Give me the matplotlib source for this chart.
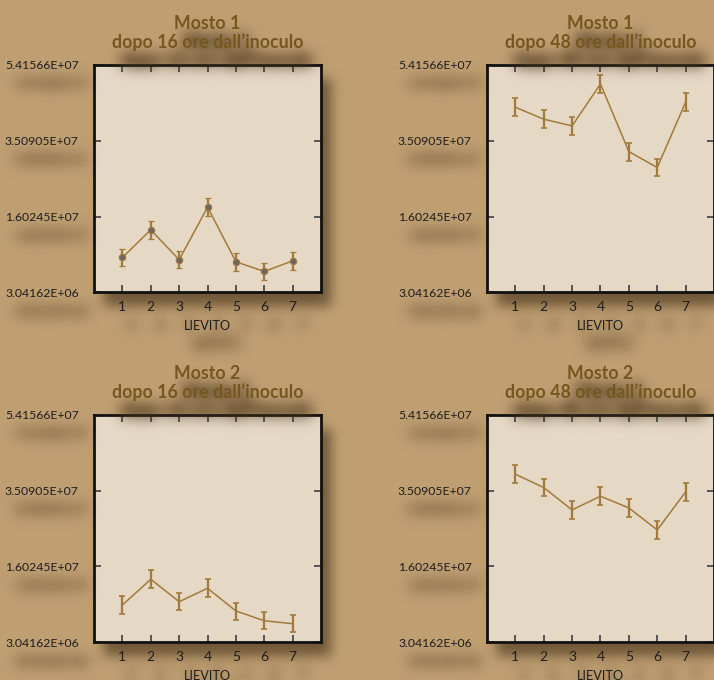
import numpy as np
import matplotlib
matplotlib.use("Agg")
import matplotlib.pyplot as plt
from matplotlib.patches import Rectangle

# conte cellulari per lievito (1-7), due mosti, due tempi
lieviti = [1, 2, 3, 4, 5, 6, 7]
m1_16h = [5.75e6, 1.271e7, 5.17e6, 1.841e7, 4.67e6, 2.23e6, 4.92e6]
m1_16h_err = [2.18e6, 2.22e6, 2.14e6, 2.26e6, 2.22e6, 2.26e6, 2.22e6]
m1_48h = [4.353e7, 4.052e7, 3.883e7, 4.938e7, 3.238e7, 2.836e7, 4.479e7]
m1_48h_err = [2.22e6, 2.26e6, 2.18e6, 2.31e6, 2.26e6, 2.18e6, 2.22e6]
m2_16h = [6.34e6, 1.281e7, 7.17e6, 1.055e7, 4.83e6, 2.39e6, 1.64e6]
m2_16h_err = [2.21e6, 2.21e6, 2.18e6, 2.21e6, 2.14e6, 2.18e6, 2.18e6]
m2_48h = [3.923e7, 3.586e7, 3.025e7, 3.369e7, 3.075e7, 2.521e7, 3.478e7]
m2_48h_err = [2.21e6, 2.21e6, 2.21e6, 2.21e6, 2.21e6, 2.21e6, 2.21e6]

y_ticks = [-3.04162e6, 1.60245e7, 3.50905e7, 5.41566e7]
y_ticklabels = ["3.04162E+06", "1.60245E+07", "3.50905E+07", "5.41566E+07"]

BG = "#bf9e72"
FACE = "#e5d8c4"
LINE = "#a27b3c"
TITLE = "#76571f"


def gauss_blur(a, sigma):
    r = int(3 * sigma)
    k = np.exp(-0.5 * (np.arange(-r, r + 1) / sigma) ** 2)
    k /= k.sum()
    a = np.apply_along_axis(lambda v: np.convolve(v, k, mode="same"), 0, a)
    a = np.apply_along_axis(lambda v: np.convolve(v, k, mode="same"), 1, a)
    return a


class DropShadow:
    """agg_filter: ombra sfocata spostata in basso a destra"""

    def __init__(self, dx=9, dy=16, sigma=6, color=(0.24, 0.17, 0.08), alpha=0.8, keep=True):
        self.dx, self.dy, self.sigma = dx, dy, sigma
        self.color = np.array(color)
        self.alpha = alpha
        self.keep = keep

    def __call__(self, im, dpi):
        p = int(max(self.dx, self.dy) + 3 * self.sigma + 2)
        src = np.pad(im, [(p, p), (p, p), (0, 0)], "constant")
        a = np.roll(np.roll(src[..., 3], self.dy, axis=0), self.dx, axis=1)
        sh = np.clip(gauss_blur(a, self.sigma) * self.alpha, 0, 1)
        out = np.zeros_like(src)
        if self.keep:
            sa = src[..., 3]
            oa = sa + sh * (1 - sa)
            safe = np.where(oa > 0, oa, 1)
            for c in range(3):
                out[..., c] = (src[..., c] * sa + self.color[c] * sh * (1 - sa)) / safe
            out[..., 3] = oa
        else:
            out[..., :3] = self.color
            out[..., 3] = sh
        return out, -p, -p


plt.rcParams["font.family"] = ["Lato", "DejaVu Sans"]

fig = plt.figure(figsize=(7.14, 6.8), dpi=100)
fig.patch.set_facecolor(BG)

W, H = 0.318, 0.3346
panels = [
    ([0.1317, 0.5699, W, H], m1_16h, m1_16h_err, "Mosto 1\ndopo 16 ore dall\u2019inoculo", True),
    ([0.682, 0.5699, W, H], m1_48h, m1_48h_err, "Mosto 1\ndopo 48 ore dall\u2019inoculo", False),
    ([0.1317, 0.0554, W, H], m2_16h, m2_16h_err, "Mosto 2\ndopo 16 ore dall\u2019inoculo", False),
    ([0.682, 0.0554, W, H], m2_48h, m2_48h_err, "Mosto 2\ndopo 48 ore dall\u2019inoculo", False),
]

axes = []
for rect, vals, errs, title, dots in panels:
    shadow = Rectangle((rect[0], rect[1]), rect[2], rect[3], transform=fig.transFigure,
                       facecolor="k", edgecolor="none", zorder=-5)
    shadow.set_agg_filter(DropShadow(dx=10, dy=14, sigma=6, color=(0.30, 0.22, 0.12),
                                     alpha=0.7, keep=False))
    fig.add_artist(shadow)

    ax = fig.add_axes(rect)
    ax.set_facecolor(FACE)
    if dots:
        ax.errorbar(lieviti, vals, yerr=errs, color=LINE, lw=1.1, elinewidth=1.6,
                    capsize=2.5, capthick=1.2, marker="o", ms=4.5,
                    mfc="#6d6560", mec="#9a7a45", mew=0.9)
    else:
        ax.errorbar(lieviti, vals, yerr=errs, color=LINE, lw=1.1, elinewidth=1.6,
                    capsize=2.5, capthick=1.2)
    ax.set_xlim(0, 8)
    ax.set_ylim(y_ticks[0], y_ticks[-1])
    ax.set_xticks(lieviti)
    ax.set_yticks(y_ticks)
    ax.set_yticklabels(y_ticklabels)
    ax.tick_params(direction="in", length=5, width=1.4, color="#555555",
                   labelsize=8.8, labelcolor="#1e1e1e", top=True, right=True, pad=11)
    ax.tick_params(axis="x", labelsize=10, pad=6)
    for s in ax.spines.values():
        s.set_linewidth(2)
        s.set_color("#111111")
    ax.set_xlabel("LIEVITO", fontsize=9.2, color="#1e1e1e", labelpad=5)
    ax.set_title(title, fontsize=12.8, fontweight="bold", color=TITLE, pad=12,
                 linespacing=1.1)
    axes.append(ax)

fig.canvas.draw()
text_shadow = DropShadow(dx=9, dy=18, sigma=7, color=(0.30, 0.22, 0.12), alpha=2.0)
for ax in axes:
    for t in ax.get_xticklabels() + ax.get_yticklabels() + [ax.title, ax.xaxis.label]:
        t.set_agg_filter(text_shadow)

fig.savefig("out.png", dpi=100, facecolor=BG)
